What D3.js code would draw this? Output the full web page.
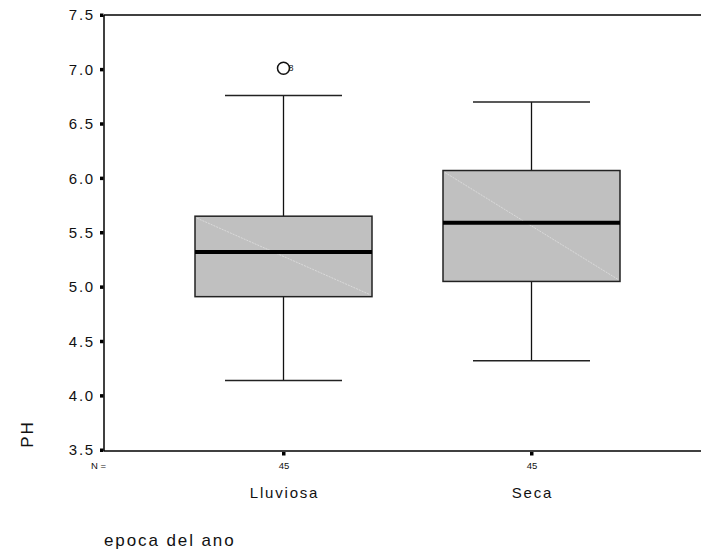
<!DOCTYPE html>
<html><head><meta charset="utf-8">
<script src="https://cdn.jsdelivr.net/npm/d3@7/dist/d3.min.js"></script>
<style>body{margin:0;background:#fff}svg{display:block}text{font-family:"Liberation Sans",Arial,sans-serif}</style>
</head><body><svg id="c" width="701" height="550"></svg>
<script>
const categories = ["Lluviosa", "Seca"];
const counts = [45, 45];
const whiskerLow = [4.14, 4.32];
const q1 = [4.91, 5.05];
const median = [5.32, 5.59];
const q3 = [5.65, 6.07];
const whiskerHigh = [6.76, 6.70];
const outliers = [{cat: "Lluviosa", value: 7.01, label: "8"}];
const yTicks = [3.5, 4.0, 4.5, 5.0, 5.5, 6.0, 6.5, 7.0, 7.5];

const svg = d3.select("#c");
const pLeft = 104, pTop = 15, pRight = 701, pBottom = 450;
const y = d3.scaleLinear().domain([3.5, 7.5]).range([pBottom, pTop]);
const x = d3.scalePoint().domain(categories).range([283.5, 531.5]);
const boxW = 177, capW = 117;

// frame
svg.append("line").attr("x1", pLeft).attr("x2", pRight).attr("y1", pTop).attr("y2", pTop).attr("stroke", "#000").attr("stroke-width", 1.5);
svg.append("line").attr("x1", pLeft).attr("x2", pRight).attr("y1", pBottom + 1).attr("y2", pBottom + 1).attr("stroke", "#000").attr("stroke-width", 1.5);
svg.append("line").attr("x1", pLeft).attr("x2", pLeft).attr("y1", pTop).attr("y2", pBottom + 1).attr("stroke", "#000").attr("stroke-width", 1.5);

// y ticks
const yt = svg.append("g");
yTicks.forEach(t => {
  yt.append("rect").attr("x", pLeft - 4).attr("y", y(t) - 1.5).attr("width", 3.5).attr("height", 3.5).attr("fill", "#000");
  yt.append("text").attr("x", 95).attr("y", y(t)).attr("dy", "0.36em").attr("text-anchor", "end")
    .attr("font-size", 15).attr("letter-spacing", 1.8).attr("fill", "#111").text(d3.format(".1f")(t));
});

// x ticks and labels
categories.forEach((c, i) => {
  svg.append("rect").attr("x", x(c) - 1.5).attr("y", pBottom + 2).attr("width", 3.5).attr("height", 3.5).attr("fill", "#000");
  svg.append("text").attr("x", x(c) + 0.5).attr("y", 469).attr("text-anchor", "middle").attr("font-size", 9.5).attr("fill", "#111").text(counts[i]);
  svg.append("text").attr("x", x(c) + 1).attr("y", 498).attr("text-anchor", "middle").attr("font-size", 15).attr("letter-spacing", 1.8).attr("fill", "#111").text(c);
});
svg.append("text").attr("x", 91).attr("y", 469).attr("font-size", 9.5).attr("fill", "#111").text("N =");

// boxes
const g = svg.append("g");
categories.forEach((c, i) => {
  const cx = x(c);
  g.append("line").attr("x1", cx).attr("x2", cx).attr("y1", y(whiskerHigh[i])).attr("y2", y(q3[i])).attr("stroke", "#111").attr("stroke-width", 1.3);
  g.append("line").attr("x1", cx).attr("x2", cx).attr("y1", y(q1[i])).attr("y2", y(whiskerLow[i])).attr("stroke", "#111").attr("stroke-width", 1.3);
  g.append("line").attr("x1", cx - capW / 2).attr("x2", cx + capW / 2).attr("y1", y(whiskerHigh[i])).attr("y2", y(whiskerHigh[i])).attr("stroke", "#222").attr("stroke-width", 1.5);
  g.append("line").attr("x1", cx - capW / 2).attr("x2", cx + capW / 2).attr("y1", y(whiskerLow[i])).attr("y2", y(whiskerLow[i])).attr("stroke", "#222").attr("stroke-width", 1.5);
  g.append("rect").attr("x", cx - boxW / 2).attr("y", y(q3[i])).attr("width", boxW).attr("height", y(q1[i]) - y(q3[i]))
    .attr("fill", "#c0c0c0").attr("stroke", "#222").attr("stroke-width", 1.5);
  g.append("line").attr("x1", cx - boxW / 2 + 2).attr("x2", cx + boxW / 2 - 2).attr("y1", y(q3[i]) + 2).attr("y2", y(q1[i]) - 2)
    .attr("stroke", "#e0e0e0").attr("stroke-width", 0.8).attr("stroke-dasharray", "2,1");
  g.append("line").attr("x1", cx - boxW / 2).attr("x2", cx + boxW / 2).attr("y1", y(median[i])).attr("y2", y(median[i])).attr("stroke", "#000").attr("stroke-width", 4);
});

// outliers
outliers.forEach(o => {
  const cx = x(o.cat);
  svg.append("circle").attr("cx", cx).attr("cy", y(o.value)).attr("r", 6).attr("fill", "#fff").attr("stroke", "#111").attr("stroke-width", 1.5);
  svg.append("text").attr("x", cx + 5).attr("y", y(o.value)).attr("dy", "0.35em").attr("font-size", 9).attr("fill", "#111").text(o.label);
});

// axis titles
svg.append("text").attr("transform", "translate(33,434) rotate(-90)").attr("text-anchor", "middle").attr("font-size", 17).attr("letter-spacing", 2).attr("fill", "#111").text("PH");
svg.append("text").attr("x", 104).attr("y", 546).attr("font-size", 17).attr("letter-spacing", 1.9).attr("fill", "#111").text("epoca del ano");
</script></body></html>
